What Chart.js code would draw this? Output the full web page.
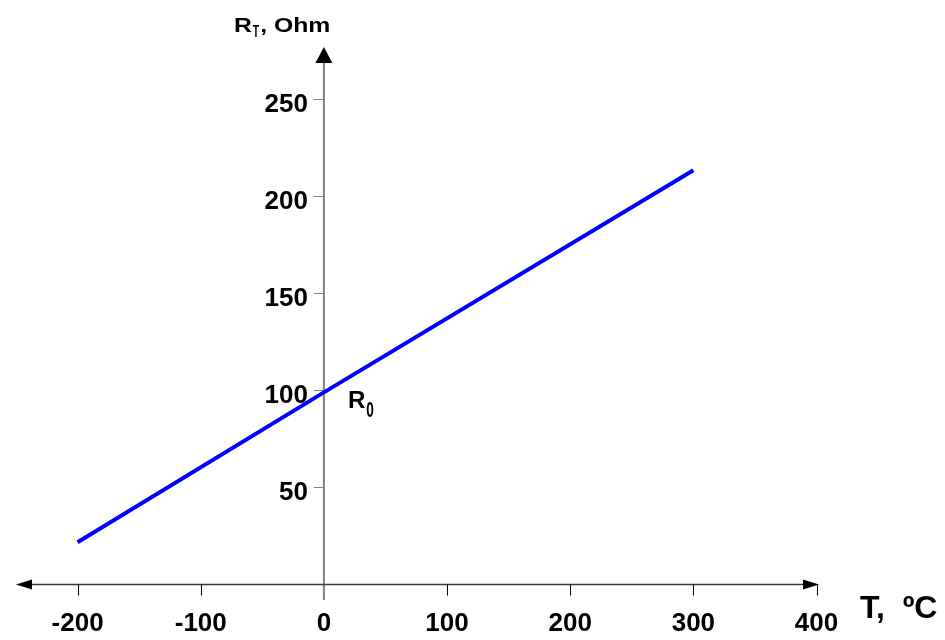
<!DOCTYPE html>
<html>
<head>
<meta charset="utf-8">
<title>RTD resistance vs temperature</title>
<script src="https://cdn.jsdelivr.net/npm/chart.js@4.4.1/dist/chart.umd.min.js"></script>
<style>
    body { margin: 0; background: #fff; }
    #chart { display: block; }
</style>
</head>
<body>
<canvas id="chart" width="945" height="640"></canvas>
<script>
// Data
const temps = [-200, 0, 300];
const resistances = [21.8, 99, 213.5];
const xTicks = [-200, -100, 0, 100, 200, 300, 400];
const yTicks = [50, 100, 150, 200, 250];

const FONT = '"Liberation Sans", Arial, sans-serif';

// text with a horizontal stretch, returns the drawn width
function stretchText(ctx, text, x, y, size, sx) {
    ctx.save();
    ctx.font = 'bold ' + size + 'px ' + FONT;
    ctx.textAlign = 'left';
    ctx.translate(x, y);
    ctx.scale(sx, 1);
    ctx.fillText(text, 0, 0);
    const w = ctx.measureText(text).width * sx;
    ctx.restore();
    return w;
}

// Draws the crossing axes, arrows, ticks and text from the chart's scales
const axesPlugin = {
    id: 'axes',
    beforeDatasetsDraw(chart) {
        const { ctx, scales: { x, y } } = chart;
        const x0 = x.getPixelForValue(0);
        const y0 = y.getPixelForValue(0);
        const left = x.getPixelForValue(x.min);
        const right = x.getPixelForValue(x.max);
        const top = y.getPixelForValue(y.max);
        const bottom = y.getPixelForValue(y.min);

        ctx.save();

        // y axis (gray)
        ctx.strokeStyle = '#808080';
        ctx.lineWidth = 2;
        ctx.beginPath();
        ctx.moveTo(x0, bottom);
        ctx.lineTo(x0, top + 10);
        ctx.stroke();

        // y ticks
        ctx.lineWidth = 1;
        yTicks.forEach(v => {
            const py = Math.round(y.getPixelForValue(v)) + 0.5;
            ctx.beginPath();
            ctx.moveTo(x0 - 10, py);
            ctx.lineTo(x0, py);
            ctx.stroke();
        });

        // x axis
        ctx.strokeStyle = '#3a3a3a';
        ctx.lineWidth = 1.5;
        ctx.beginPath();
        ctx.moveTo(left + 10, y0);
        ctx.lineTo(right - 10, y0);
        ctx.stroke();

        // x ticks
        ctx.strokeStyle = '#000';
        ctx.lineWidth = 1;
        xTicks.forEach(v => {
            if (v === 0) return;
            const px = Math.round(x.getPixelForValue(v)) + 0.5;
            ctx.beginPath();
            ctx.moveTo(px, y0);
            ctx.lineTo(px, y0 + 11);
            ctx.stroke();
        });

        // arrow heads
        ctx.fillStyle = '#000';
        ctx.beginPath();
        ctx.moveTo(left, y0);
        ctx.lineTo(left + 16, y0 - 5);
        ctx.lineTo(left + 16, y0 + 5);
        ctx.closePath();
        ctx.fill();

        ctx.beginPath();
        ctx.moveTo(right, y0);
        ctx.lineTo(right - 16, y0 - 5);
        ctx.lineTo(right - 16, y0 + 5);
        ctx.closePath();
        ctx.fill();

        ctx.beginPath();
        ctx.moveTo(x0, top);
        ctx.lineTo(x0 - 8.5, top + 16);
        ctx.lineTo(x0 + 8.5, top + 16);
        ctx.closePath();
        ctx.fill();

        // tick labels
        ctx.fillStyle = '#000';
        ctx.font = 'bold 26px ' + FONT;
        ctx.textBaseline = 'alphabetic';
        ctx.textAlign = 'center';
        xTicks.forEach(v => {
            ctx.fillText(String(v), x.getPixelForValue(v), y0 + 47);
        });
        ctx.textAlign = 'right';
        yTicks.forEach(v => {
            ctx.fillText(String(v), x0 - 16, y.getPixelForValue(v) + 13);
        });

        // axis titles
        stretchText(ctx, 'T,  \u00baC', right + 41, y0 + 34, 32, 1.0);

        let tx = x0 - 90;
        const ty = 32;
        tx += stretchText(ctx, 'R', tx, ty, 21, 1.18);
        tx += stretchText(ctx, 'T', tx + 1, ty + 5, 16, 0.65) + 2;
        stretchText(ctx, ', Ohm', tx, ty, 21, 1.18);

        // R0 label at the zero-degree point
        const rx = x0 + 24;
        const ry = y.getPixelForValue(resistances[1]) + 16;
        const rw = stretchText(ctx, 'R', rx, ry, 23, 1.05);
        stretchText(ctx, '0', rx + rw + 1, ry + 9, 22, 0.62);

        ctx.restore();
    }
};

new Chart(document.getElementById('chart'), {
    type: 'scatter',
    data: {
        datasets: [{
            data: temps.map((t, i) => ({ x: t, y: resistances[i] })),
            showLine: true,
            borderColor: '#0000ff',
            borderWidth: 4,
            pointRadius: 0,
            fill: false
        }]
    },
    options: {
        responsive: false,
        animation: false,
        layout: { padding: { left: 16, right: 126, top: 47, bottom: 40 } },
        plugins: { legend: { display: false }, tooltip: { enabled: false } },
        scales: {
            x: { type: 'linear', min: -250, max: 402, display: false },
            y: { type: 'linear', min: -8, max: 277, display: false }
        }
    },
    plugins: [axesPlugin]
});
</script>
</body>
</html>
